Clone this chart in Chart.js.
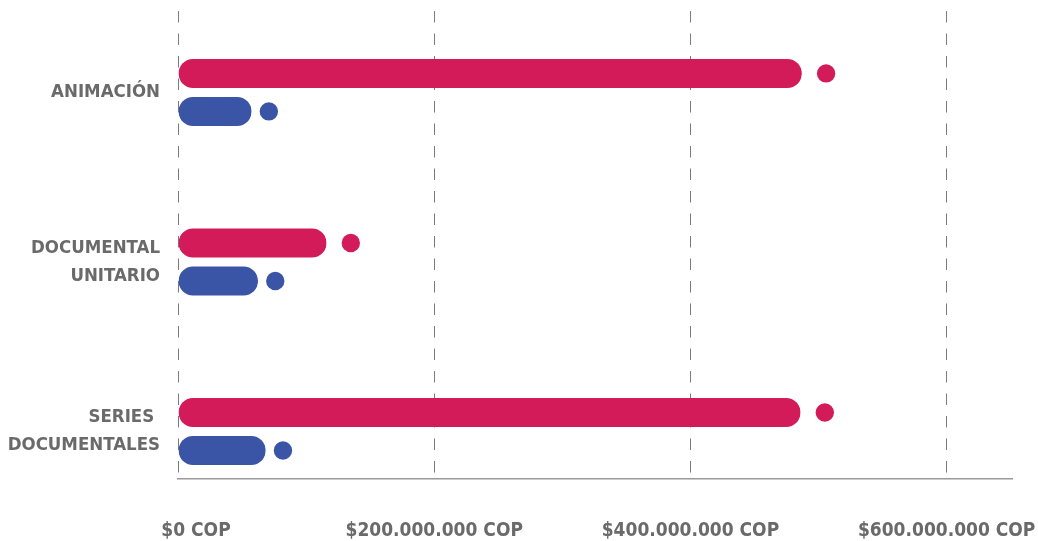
<!DOCTYPE html>
<html>
<head>
<meta charset="utf-8">
<script src="https://cdn.jsdelivr.net/npm/chart.js@4.4.1/dist/chart.umd.min.js"></script>
<style>
  html, body { margin: 0; padding: 0; background: #fff; }
  #wrap { width: 1038px; height: 541px; position: relative; }
</style>
</head>
<body>
<div id="wrap"><canvas id="chart-1"></canvas></div>
<script>
// categorias (una linea por renglon de la etiqueta)
var categories = [["ANIMACIÓN"], ["DOCUMENTAL", "UNITARIO"], ["SERIES ", "DOCUMENTALES"]];
// valores en COP
var pink_values = [487000000, 116000000, 486000000];
var blue_values = [57500000, 62500000, 68500000];
var x_ticks = [0, 200000000, 400000000, 600000000];

var text_color = "#6a6a6a";
var pink = "#d31b59";
var blue = "#3a55a5";
var label_font = "DejaVu Sans Condensed";

function format_cop(v) {
    return "$" + String(v).replace(/\B(?=(\d{3})+(?!\d))/g, ".") + " COP";
}

// dibuja el punto que va despues de cada barra
const dotsPlugin = {
    id: "dots",
    beforeDraw(chart) {
        // la etiqueta "$0 COP" va corrida a la derecha en el original
        const items = chart.scales.x.getLabelItems();
        if (items.length && !items[0].shifted) {
            items[0].options.translation[0] += 18;
            items[0].shifted = true;
        }
    },
    afterDatasetsDraw(chart) {
        const ctx = chart.ctx;
        chart.data.datasets.forEach(function(ds, i) {
            const meta = chart.getDatasetMeta(i);
            meta.data.forEach(function(bar) {
                ctx.save();
                ctx.beginPath();
                ctx.arc(bar.x + ds.dotGap + 9.2, bar.y, 9.2, 0, Math.PI * 2);
                ctx.fillStyle = ds.backgroundColor;
                ctx.fill();
                ctx.restore();
            });
        });
    },
};

const barStyle = {
    barThickness: 38,
    borderWidth: { top: 4.5, bottom: 4.5, left: 0, right: 0 },
    borderColor: "rgba(0,0,0,0)",
    borderRadius: 19,
    borderSkipped: false,
    inflateAmount: 0,
};

const ctx = document.getElementById("chart-1").getContext("2d");
const myChart = new Chart(ctx, {
    type: "bar",
    data: {
        datasets: [
            Object.assign({
                label: "pink",
                data: pink_values.map((v, i) => ({ x: v, y: i })),
                backgroundColor: pink,
                dotGap: 15,
            }, barStyle),
            Object.assign({
                label: "blue",
                data: blue_values.map((v, i) => ({ x: v, y: i })),
                backgroundColor: blue,
                dotGap: 8,
            }, barStyle),
        ],
    },
    plugins: [dotsPlugin],
    options: {
        indexAxis: "y",
        responsive: true,
        maintainAspectRatio: false,
        animation: false,
        layout: { padding: { top: 11, right: 26, left: 0, bottom: 0 } },
        plugins: {
            legend: { display: false },
            tooltip: { enabled: false },
        },
        scales: {
            x: {
                type: "linear",
                min: 0,
                max: 651000000,
                afterBuildTicks: s => { s.ticks = x_ticks.map(v => ({ value: v })); },
                afterFit: s => { s.height = 62; s.paddingLeft = 0; s.paddingRight = 0; },
                grid: {
                    color: "#7a7a7a",
                    lineWidth: 1,
                    drawTicks: false,
                },
                border: { display: true, color: "#9a9a9a", width: 1.5, dash: [11.5, 11] },
                ticks: {
                    padding: 41,
                    color: text_color,
                    font: { family: label_font, size: 19, weight: "bold" },
                    maxRotation: 0,
                    callback: v => format_cop(v),
                },
            },
            y: {
                type: "linear",
                reverse: true,
                offset: false,
                min: -0.48,
                max: 2.28,
                afterBuildTicks: s => { s.ticks = categories.map((c, i) => ({ value: i })); },
                afterFit: s => { s.width = 178; s.paddingTop = 0; s.paddingBottom = 0; },
                grid: { display: false, drawTicks: false },
                border: { display: false },
                ticks: {
                    padding: 18,
                    color: text_color,
                    font: { family: label_font, size: 18.5, weight: "bold", lineHeight: 1.5 },
                    callback: v => categories[v],
                },
            },
        },
    },
});
</script>
</body>
</html>
